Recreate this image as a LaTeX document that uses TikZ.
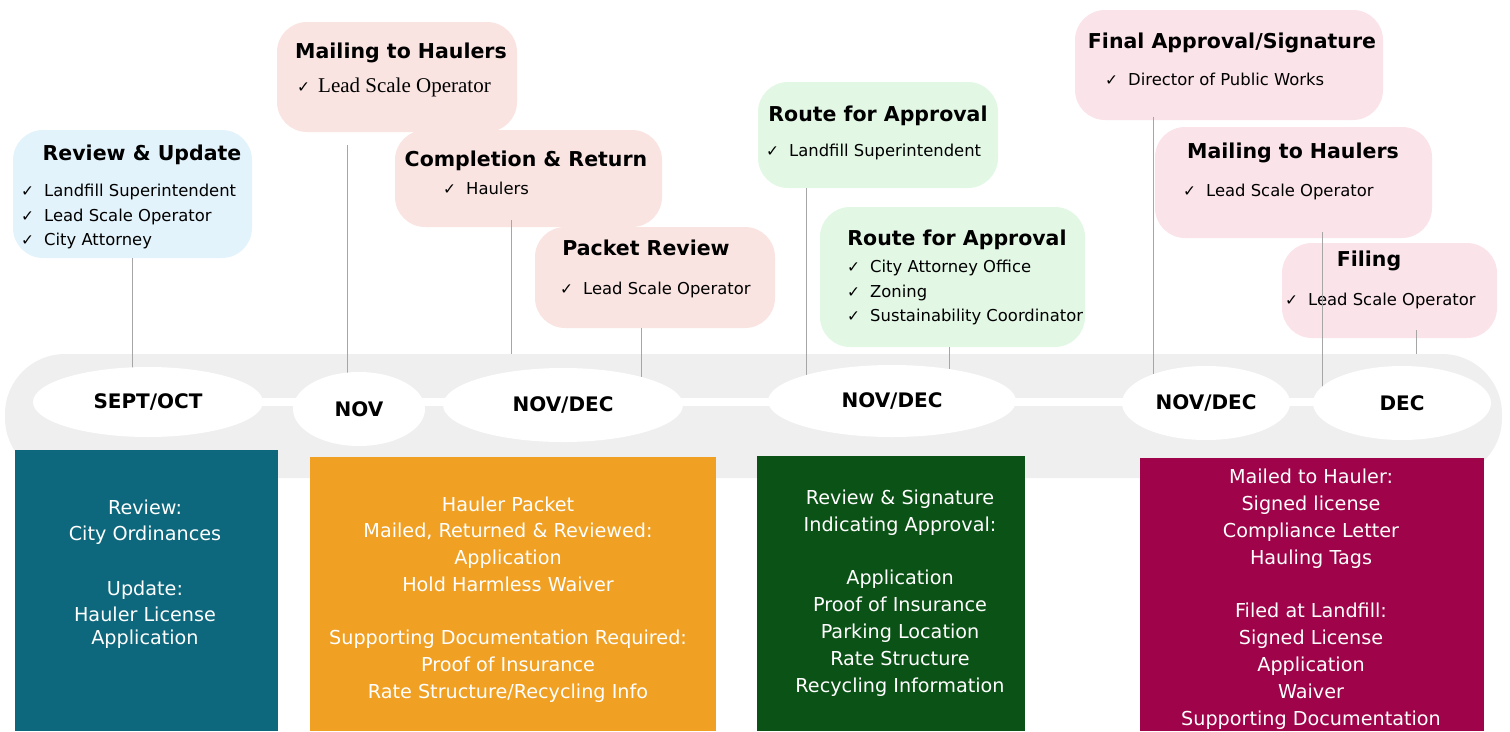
\documentclass[tikz,border=0pt]{standalone}
\usepackage{fontspec}
\setmainfont{DejaVu Sans}
\newfontfamily\timesfont{Liberation Serif}
\newfontfamily\tickfont{DejaVu Sans}
\usepackage{tikz}
\usetikzlibrary{positioning, shapes.geometric}

\definecolor{bandgray}{HTML}{EFEFEF}
\definecolor{cardblue}{HTML}{E3F3FB}
\definecolor{cardsalmon}{HTML}{F9E4E1}
\definecolor{cardrose}{HTML}{FBE3EA}
\definecolor{cardgreen}{HTML}{E2F8E5}
\definecolor{linkgray}{HTML}{A6A6A6}
\definecolor{tealbox}{HTML}{0E687D}
\definecolor{orangebox}{HTML}{F0A023}
\definecolor{greenbox}{HTML}{0B5216}
\definecolor{crimsonbox}{HTML}{9F0349}

\newcommand{\chkmark}{\makebox[23pt][l]{\tickfont\fontsize{15.5}{20}\selectfont ✓}}

\pgfdeclarelayer{band_layer}
\pgfdeclarelayer{link_layer}
\pgfsetlayers{band_layer,link_layer,main}

\begin{document}
\begin{tikzpicture}
    [
        x=1pt, y=-1pt,
        band_shape/.style={rounded corners=60pt, fill=bandgray, inner sep=0pt},
        month/.style={ellipse, fill=white, inner sep=0pt, font=\fontsize{20}{24}\selectfont\bfseries},
        card/.style={rounded corners=30pt, inner sep=0pt},
        blue_card/.style={card, fill=cardblue},
        salmon_card/.style={card, fill=cardsalmon},
        rose_card/.style={card, fill=cardrose},
        green_card/.style={card, fill=cardgreen},
        title/.style={inner sep=0pt, anchor=base, font=\fontsize{20.5}{24}\selectfont\bfseries},
        item/.style={inner sep=0pt, anchor=base west, font=\fontsize{16.4}{20}\selectfont},
        link/.style={draw=linkgray, line width=0.9pt},
        stripe/.style={draw=white, line width=8pt},
        box/.style={inner sep=0pt, anchor=north west},
        box_text/.style={inner sep=0pt, anchor=base, text=white, font=\fontsize{19.2}{23}\selectfont},
    ]
        \useasboundingbox (0,0) rectangle (1510,731);

        \begin{pgfonlayer}{band_layer}
            \node[band_shape, minimum width=1497pt, minimum height=124pt] (band) at (753.5,416) {};
        \end{pgfonlayer}

        \node[month, minimum width=230pt, minimum height=70pt] (so) at (148,402) {SEPT/OCT};
        \node[month, minimum width=132pt, minimum height=74pt] (nov) at (359,409) {NOV};
        \node[month, minimum width=240pt, minimum height=74pt] (nd1) at (563,405) {NOV/DEC};
        \node[month, minimum width=248pt, minimum height=72pt] (nd2) at (892,401) {NOV/DEC};
        \node[month, minimum width=168pt, minimum height=74pt] (nd3) at (1206,403) {NOV/DEC};
        \node[month, minimum width=178pt, minimum height=74pt] (dec) at (1402,403) {DEC};

        \begin{pgfonlayer}{link_layer}
            \node[blue_card, minimum width=239pt, minimum height=128pt] (rev) at (132.5,194) {};
            \node[title] (rev_t) at (142,160) {Review \& Update};
            \node[item] (rev_i1) at (21,196.5) {\chkmark Landfill Superintendent};
            \node[item] (rev_i2) at (21,221) {\chkmark Lead Scale Operator};
            \node[item] (rev_i3) at (21,245.5) {\chkmark City Attorney};

            \node[salmon_card, minimum width=240pt, minimum height=110pt] (mail1) at (397,77) {};
            \node[title] (mail1_t) at (401,58) {Mailing to Haulers};
            \node[item, font=\fontsize{21}{24}\selectfont\timesfont] (mail1_i) at (297,92.5) {\makebox[21pt][l]{\tickfont\fontsize{15.5}{20}\selectfont ✓}Lead Scale Operator};

            \node[salmon_card, minimum width=267pt, minimum height=97pt] (comp) at (528.5,178.5) {};
            \node[title] (comp_t) at (526,166.5) {Completion \& Return};
            \node[item] (comp_i) at (443,194) {\chkmark Haulers};

            \node[salmon_card, minimum width=240pt, minimum height=101pt] (pack) at (655,277.5) {};
            \node[title] (pack_t) at (646,255) {Packet Review};
            \node[item] (pack_i) at (560,294) {\chkmark Lead Scale Operator};

            \node[green_card, minimum width=240pt, minimum height=106pt] (route1) at (878,135) {};
            \node[title] (route1_t) at (878,121.5) {Route for Approval};
            \node[item] (route1_i) at (766,156) {\chkmark Landfill Superintendent};

            \node[green_card, minimum width=265pt, minimum height=140pt] (route2) at (952.5,277) {};
            \node[title] (route2_t) at (957,245) {Route for Approval};
            \node[item] (route2_i1) at (847,272.3) {\chkmark City Attorney Office};
            \node[item] (route2_i2) at (847,297.3) {\chkmark Zoning};
            \node[item] (route2_i3) at (847,321.7) {\chkmark Sustainability Coordinator};

            \node[rose_card, minimum width=308pt, minimum height=110pt] (fin) at (1229,65) {};
            \node[title] (fin_t) at (1232,48.3) {Final Approval/Signature};
            \node[item] (fin_i) at (1105,85) {\chkmark Director of Public Works};

            \node[rose_card, minimum width=277pt, minimum height=111pt] (mail2) at (1293.5,182.5) {};
            \node[title] (mail2_t) at (1293,158.3) {Mailing to Haulers};
            \node[item] (mail2_i) at (1183,196) {\chkmark Lead Scale Operator};

            \node[rose_card, minimum width=215pt, minimum height=95pt] (filing) at (1389.5,290.5) {};
            \node[title] (filing_t) at (1369,266.5) {Filing};
            \node[item] (filing_i) at (1285,305) {\chkmark Lead Scale Operator};

            \coordinate (rev_top) at (rev.south);
            \coordinate (mail1_top) at ([xshift=-50pt,yshift=-13pt]mail1.south);
            \coordinate (comp_top) at ([xshift=-17.5pt,yshift=7pt]comp.south);
            \coordinate (pack_top) at ([xshift=-14pt]pack.south);
            \coordinate (route1_top) at ([xshift=-72pt]route1.south);
            \coordinate (route2_top) at ([xshift=-3.5pt]route2.south);
            \coordinate (fin_top) at ([xshift=-76pt,yshift=3pt]fin.south);
            \coordinate (mail2_top) at ([xshift=28.5pt,yshift=6pt]mail2.south);
            \coordinate (filing_top) at ([xshift=26.5pt,yshift=8pt]filing.south);

            \draw[link] (rev_top) -- (rev_top |- so.center);
            \draw[link] (mail1_top) -- (mail1_top |- nov.center);
            \draw[link] (comp_top) -- (comp_top |- band.north);
            \draw[link] (pack_top) -- (pack_top |- nd1.center);
            \draw[link] (route1_top) -- (route1_top |- nd2.center);
            \draw[link] (route2_top) -- (route2_top |- nd2.center);
            \draw[link] (fin_top) -- (fin_top |- nd3.center);
            \draw[link] (mail2_top) -- (mail2_top |- dec.center);
            \draw[link] (filing_top) -- (filing_top |- band.north);

            \draw[stripe] (so.center) -- (so.center -| dec.center);
        \end{pgfonlayer}

        \node[box, fill=tealbox, minimum width=263pt, minimum height=281pt] (teal) at (15,450) {};
        \node[box, fill=orangebox, minimum width=406pt, minimum height=274pt] (orange) at (310,457) {};
        \node[box, fill=greenbox, minimum width=268pt, minimum height=275pt] (green) at (757,456) {};
        \node[box, fill=crimsonbox, minimum width=344pt, minimum height=273pt] (crimson) at (1140,458) {};

        \foreach \y/\txt [count=\i] in {514/Review:, 540/City Ordinances, 595/Update:, 621/Hauler License, 644/Application}
            \node[box_text] (teal_t\i) at (145,\y) {\txt};
        \foreach \y/\txt [count=\i] in {511/Hauler Packet, 537/{Mailed, Returned \& Reviewed:}, 564/Application, 591/Hold Harmless Waiver, 644/Supporting Documentation Required:, 671/Proof of Insurance, 698/Rate Structure\slash Recycling Info}
            \node[box_text] (orange_t\i) at (508,\y) {\txt};
        \foreach \y/\txt [count=\i] in {504/Review \& Signature, 531/Indicating Approval:, 584/Application, 611/Proof of Insurance, 638/Parking Location, 665/Rate Structure, 692/Recycling Information}
            \node[box_text] (green_t\i) at (900,\y) {\txt};
        \foreach \y/\txt [count=\i] in {483/Mailed to Hauler:, 510/Signed license, 537/Compliance Letter, 564/Hauling Tags, 617/Filed at Landfill:, 644/Signed License, 671/Application, 698/Waiver, 725/Supporting Documentation}
            \node[box_text] (crimson_t\i) at (1311,\y) {\txt};
    \end{tikzpicture}
\end{document}
